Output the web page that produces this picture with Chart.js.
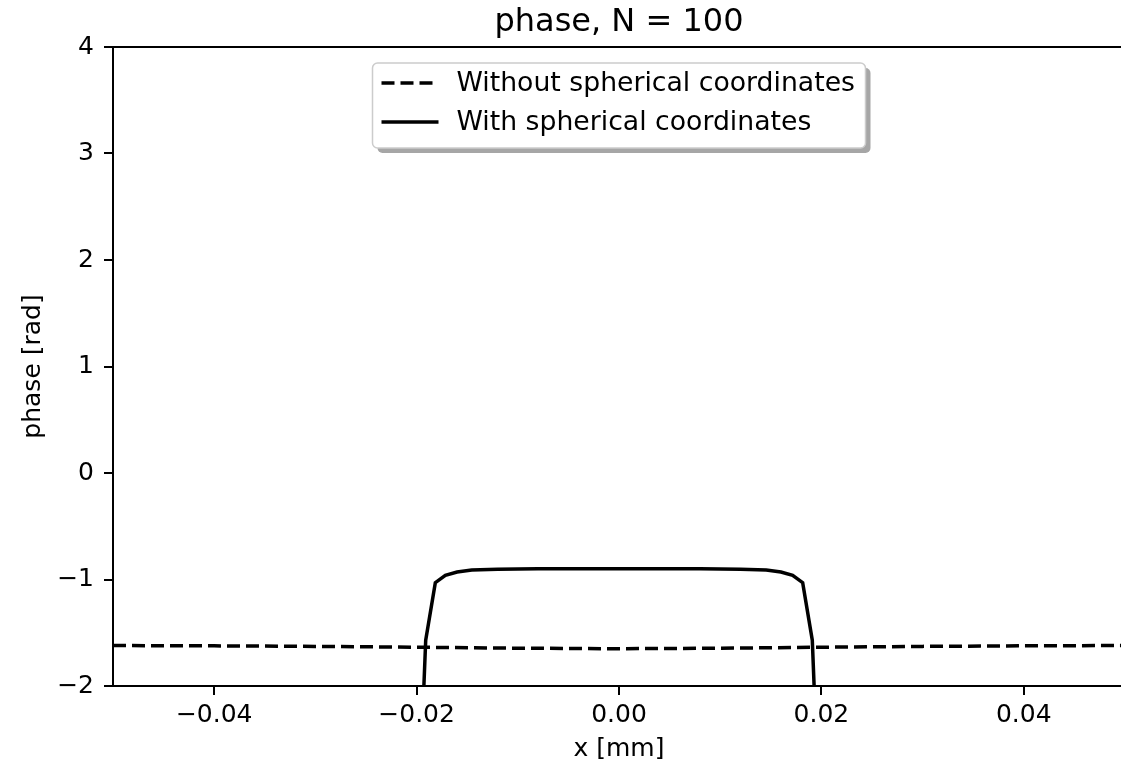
<!DOCTYPE html>
<html>
<head>
<meta charset="utf-8">
<script src="https://cdn.jsdelivr.net/npm/chart.js@4.4.0/dist/chart.umd.min.js"></script>
<style>
html, body { margin: 0; padding: 0; background: #fff; overflow: hidden; }
#recorte { width: 1121px; height: 772px; overflow: hidden; position: relative; }
canvas { display: block; }
</style>
</head>
<body>
<div id="recorte"><canvas id="fase" width="1130" height="772"></canvas></div>
<script>
// datos
const xSin = [-0.05, -0.04, -0.03, -0.02, -0.01, 0, 0.01, 0.02, 0.03, 0.04, 0.05];
const ySin = [-1.620, -1.623, -1.628, -1.636, -1.645, -1.650, -1.645, -1.636, -1.628, -1.623, -1.620];

const xCon = [-0.05, -0.0201, -0.0191, -0.01815, -0.01716, -0.0160, -0.01455, -0.012, -0.008, 0,
              0.008, 0.012, 0.01455, 0.0160, 0.01716, 0.01815, 0.0191, 0.0201, 0.05];
const yCon = [-4.0, -3.96, -1.57, -1.03, -0.96, -0.93, -0.91, -0.903, -0.90, -0.90,
              -0.90, -0.903, -0.91, -0.93, -0.96, -1.03, -1.57, -3.96, -4.0];

const xTicks = [-0.04, -0.02, 0, 0.02, 0.04];
const yTicks = [-2, -1, 0, 1, 2, 3, 4];

const etiquetas = ['Without spherical coordinates', 'With spherical coordinates'];
const titulo = 'phase, N = 100';

const fuente = "'DejaVu Sans', sans-serif";
Chart.defaults.font.family = fuente;
Chart.defaults.color = '#000';

function pares(xs, ys) {
    return xs.map((x, i) => ({x: x, y: ys[i]}));
}

function menos(txt, v) {
    return v < 0 ? '\u2212' + txt.replace('-', '') : txt;
}

// marco de arriba, titulo y leyenda
const extras = {
    id: 'extras',
    afterDraw(chart) {
        const c = chart.ctx, a = chart.chartArea;
        const cx = (a.left + a.right) / 2;
        c.save();
        c.strokeStyle = '#000';
        c.lineWidth = 2;
        c.beginPath();
        c.moveTo(a.left, a.top);
        c.lineTo(a.right, a.top);
        c.stroke();

        // titulo
        c.font = '32px ' + fuente;
        c.fillStyle = '#000';
        c.textAlign = 'center';
        c.textBaseline = 'middle';
        c.fillText(titulo, cx, 23);

        // leyenda
        const w = 493, h = 85;
        const x0 = cx - w / 2, y0 = a.top + 16;
        c.fillStyle = '#a6a6a6';
        c.beginPath();
        c.roundRect(x0 + 5, y0 + 5, w, h, 5);
        c.fill();
        c.fillStyle = '#fff';
        c.strokeStyle = '#cccccc';
        c.lineWidth = 1.5;
        c.beginPath();
        c.roundRect(x0, y0, w, h, 5);
        c.fill();
        c.stroke();

        chart.data.datasets.forEach((ds, i) => {
            const y = y0 + 20 + i * 39;
            c.strokeStyle = ds.borderColor;
            c.lineWidth = ds.borderWidth;
            c.setLineDash(ds.borderDash || []);
            c.beginPath();
            c.moveTo(x0 + 9, y);
            c.lineTo(x0 + 66, y);
            c.stroke();
            c.setLineDash([]);
            c.font = '26.7px ' + fuente;
            c.fillStyle = '#000';
            c.textAlign = 'left';
            c.textBaseline = 'middle';
            c.fillText(ds.label, x0 + 84, y + 1);
        });
        c.restore();
    }
};

const ctx = document.getElementById('fase');
new Chart(ctx, {
    type: 'line',
    data: {
        datasets: [{
            label: etiquetas[0],
            data: pares(xSin, ySin),
            borderColor: '#000',
            borderWidth: 3.5,
            borderDash: [13, 6],
            pointRadius: 0,
            fill: false,
            clip: 0
        }, {
            label: etiquetas[1],
            data: pares(xCon, yCon),
            borderColor: '#000',
            borderWidth: 3.5,
            borderDash: [],
            pointRadius: 0,
            fill: false,
            clip: 0
        }]
    },
    options: {
        responsive: false,
        animation: false,
        devicePixelRatio: 1,
        layout: {padding: {left: 0, right: 5, top: 47, bottom: 0}},
        plugins: {
            legend: {display: false},
            tooltip: {enabled: false},
            title: {display: false}
        },
        scales: {
            x: {
                type: 'linear',
                min: -0.05,
                max: 0.05,
                afterBuildTicks: s => { s.ticks = xTicks.map(v => ({value: v})); },
                afterFit: s => { s.height = 86; },
                ticks: {
                    callback: v => menos(v.toFixed(2), v),
                    font: {size: 25},
                    padding: 5,
                    maxRotation: 0,
                    autoSkip: false
                },
                grid: {drawOnChartArea: false, tickLength: 9, color: '#000', lineWidth: 2},
                border: {color: '#000', width: 2},
                title: {display: true, text: 'x [mm]', font: {size: 25}, padding: {top: 0, bottom: 8}}
            },
            y: {
                min: -2,
                max: 4,
                afterBuildTicks: s => { s.ticks = yTicks.map(v => ({value: v})); },
                afterFit: s => { s.width = 113; },
                ticks: {
                    callback: v => menos(String(v), v),
                    font: {size: 25},
                    padding: 10,
                    autoSkip: false
                },
                grid: {drawOnChartArea: false, tickLength: 9, color: '#000', lineWidth: 2},
                border: {color: '#000', width: 2},
                title: {display: true, text: 'phase [rad]', font: {size: 25}, padding: {top: 18, bottom: 0}}
            }
        }
    },
    plugins: [extras]
});
</script>
</body>
</html>
